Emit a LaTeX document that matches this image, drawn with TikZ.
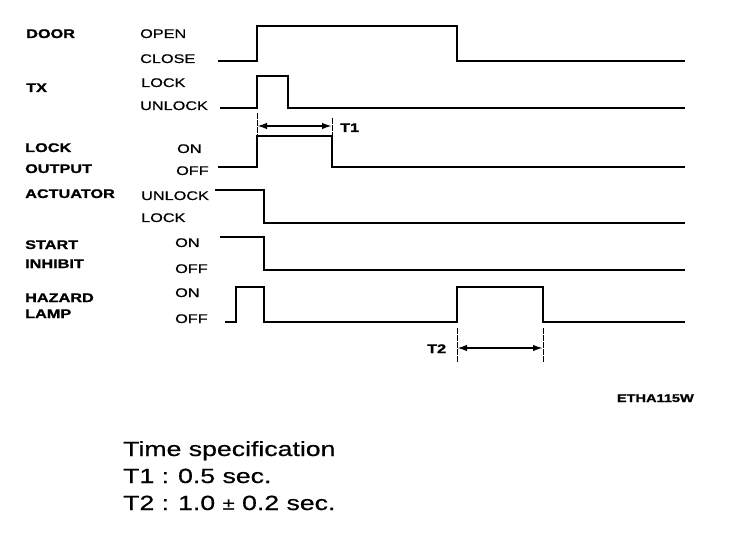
\documentclass[tikz,border=0pt]{standalone}
\usepackage{fontspec}
\setmainfont{Liberation Sans}
\newfontfamily\wide[FakeStretch=1.3]{Liberation Sans}
\newfontfamily\widebold[FakeStretch=1.3,FakeBold=1.2]{Liberation Sans Bold}
\newfontfamily\widemed[FakeStretch=1.3,FakeBold=0.6]{Liberation Sans}
\usetikzlibrary{arrows.meta}
\tikzset{
  sname/.style={anchor=base west, inner sep=0pt, font=\widebold\fontsize{12.5}{13}\selectfont},
  sstate/.style={anchor=base west, inner sep=0pt, font=\widemed\fontsize{12.5}{13}\selectfont},
  tlabel/.style={anchor=base west, inner sep=0pt, font=\widebold\fontsize{12.5}{13}\selectfont},
  spec/.style={anchor=base west, inner sep=0pt, font=\widemed\fontsize{20.5}{22}\selectfont},
  sig/.style={line width=2.4pt, line join=miter},
  tickline/.style={line width=0.9pt, dash pattern=on 6pt off 1pt},
  dimarrow/.style={line width=1.8pt, {Latex[length=10pt,width=6.5pt]}-{Latex[length=10pt,width=6.5pt]}},
}
\begin{document}
\begin{tikzpicture}[x=1pt,y=-1pt]
\fill[white] (0,0) rectangle (736,540);
\useasboundingbox (0,0) rectangle (736,540);

% signal names
\node[sname] (n1) at (26,38) {DOOR};
\node[sname] (n2) at (26,92) {TX};
\node[sname] (n3a) at (25,152) {LOCK};
\node[sname] (n3b) at (25,173) {OUTPUT};
\node[sname] (n4) at (25,198) {ACTUATOR};
\node[sname] (n5a) at (25,249) {START};
\node[sname] (n5b) at (25,268) {INHIBIT};
\node[sname] (n6a) at (25,302) {HAZARD};
\node[sname] (n6b) at (25,318) {LAMP};

% state labels
\node[sstate] (s1h) at (140,38) {OPEN};
\node[sstate] (s1l) at (140,63) {CLOSE};
\node[sstate] (s2h) at (141,87) {LOCK};
\node[sstate] (s2l) at (140,110) {UNLOCK};
\node[sstate] (s3h) at (177,153) {ON};
\node[sstate] (s3l) at (176,175) {OFF};
\node[sstate] (s4h) at (141,200) {UNLOCK};
\node[sstate] (s4l) at (141,222) {LOCK};
\node[sstate] (s5h) at (175,247) {ON};
\node[sstate] (s5l) at (175,273) {OFF};
\node[sstate] (s6h) at (175,297) {ON};
\node[sstate] (s6l) at (175,323) {OFF};

% waveforms
\draw[sig] (218,61) -- (257,61) -- (257,26) -- (457,26) -- (457,61) -- (685,61);
\draw[sig] (220,108) -- (257,108) -- (257,76) -- (288,76) -- (288,108) -- (685,108);
\draw[sig] (218,167) -- (257,167) -- (257,136) -- (332,136) -- (332,167) -- (685,167);
\draw[sig] (215,190) -- (264,190) -- (264,223) -- (685,223);
\draw[sig] (220,237) -- (264,237) -- (264,270) -- (685,270);
\draw[sig] (225,322) -- (236,322) -- (236,287) -- (264,287) -- (264,322) -- (457,322)
  -- (457,287) -- (543,287) -- (543,322) -- (685,322);

% T1
\coordinate (t1at) at (257,113);
\coordinate (t1ab) at (257,136);
\coordinate (t1bt) at (332,118);
\coordinate (t1bb) at (332,136);
\coordinate (t1l) at (257,126);
\coordinate (t1r) at (332,126);
\draw[tickline] (t1at) -- (t1ab);
\draw[tickline] (t1bt) -- (t1bb);
\draw[dimarrow] (t1l) -- (t1r);
\node[tlabel] (T1) at (340,132) {T1};

% T2
\coordinate (t2at) at (457,328);
\coordinate (t2ab) at (457,362);
\coordinate (t2bt) at (543,328);
\coordinate (t2bb) at (543,362);
\coordinate (t2l) at (457,348);
\coordinate (t2r) at (543,348);
\draw[tickline] (t2at) -- (t2ab);
\draw[tickline] (t2bt) -- (t2bb);
\draw[dimarrow] (t2l) -- (t2r);
\node[tlabel] (T2) at (427,353) {T2};

% figure code
\node[anchor=base east, inner sep=0pt, font=\widebold\fontsize{11.2}{12}\selectfont] (code) at (694,402) {ETHA115W};

% specification
\node[spec] (sp0) at (123,456) {Time specification};
\node[spec] (sp1) at (123,483) {T1 :\hspace{9pt}0.5 sec.};
\node[spec] (sp2) at (123,510) {T2 :\hspace{9pt}1.0 {\fontsize{17}{18}\selectfont\raisebox{0.5pt}{±}} 0.2 sec.};
\end{tikzpicture}
\end{document}
